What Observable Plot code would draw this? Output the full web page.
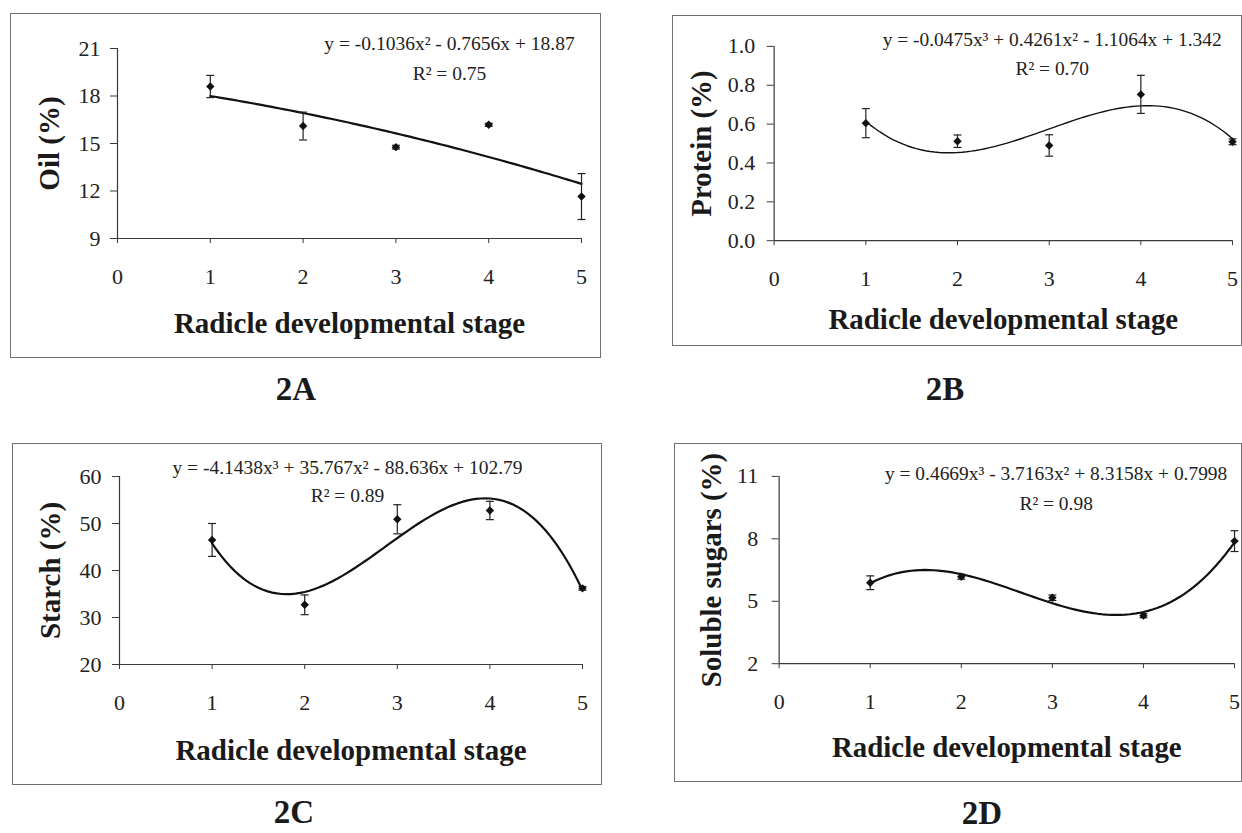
<!DOCTYPE html>
<html><head><meta charset="utf-8">
<script src="https://cdn.jsdelivr.net/npm/d3@7"></script>
<script src="https://cdn.jsdelivr.net/npm/@observablehq/plot@0.6"></script>
<style>
html,body{margin:0;padding:0;background:#fff;overflow:hidden;}
#page{position:relative;width:1242px;height:833px;overflow:hidden;font-family:"Liberation Serif","Times New Roman",serif;}
.panel{position:absolute;}
.panel svg{display:block;outline:1.6px solid #707070;outline-offset:-1px;}
.tag{position:absolute;font-weight:bold;font-size:33px;transform:translate(-50%,-50%);line-height:1;color:#1a1a1a;white-space:nowrap;}
</style></head><body><div id="page"></div>
<script>
// ---- data ----
const stages = [1, 2, 3, 4, 5];
const xTicks = [0, 1, 2, 3, 4, 5];
const xTitle = "Radicle developmental stage";

// 2A Oil
const oilMean = [18.6, 16.1, 14.77, 16.18, 11.65];
const oilErr  = [0.7, 0.88, 0.12, 0.1, 1.45];
const oilFit  = [-0.1036, -0.7656, 18.87];            // trendline coefficients (x², x, 1)
const oilTicks = [9, 12, 15, 18, 21];
const oilEq = "y = -0.1036x² - 0.7656x + 18.87";
const oilR2 = "R² = 0.75";

// 2B Protein
const protMean = [0.605, 0.512, 0.49, 0.753, 0.509];
const protErr  = [0.075, 0.032, 0.055, 0.098, 0.015];
const protFit  = [-0.0475, 0.4261, -1.1064, 1.342];  // (x³, x², x, 1)
const protTicks = [0, 0.2, 0.4, 0.6, 0.8, 1.0];
const protEq = "y = -0.0475x³ + 0.4261x² - 1.1064x + 1.342";
const protR2 = "R² = 0.70";

// 2C Starch
const starMean = [46.5, 32.7, 50.9, 52.77, 36.2];
const starErr  = [3.5, 2.1, 3.1, 1.95, 0.4];
const starFit  = [-4.1438, 35.767, -88.636, 102.79];
const starTicks = [20, 30, 40, 50, 60];
const starEq = "y = -4.1438x³ + 35.767x² - 88.636x + 102.79";
const starR2 = "R² = 0.89";

// 2D Soluble sugars
const sugMean = [5.89, 6.18, 5.17, 4.31, 7.89];
const sugErr  = [0.33, 0.12, 0.13, 0.1, 0.5];
const sugFit  = [0.4669, -3.7163, 8.3158, 0.7998];
const sugTicks = [2, 5, 8, 11];
const sugEq = "y = 0.4669x³ - 3.7163x² + 8.3158x + 0.7998";
const sugR2 = "R² = 0.98";

// ---- helpers ----
const fitCurve = coef => d3.range(1, 5.0001, 0.05).map(x => ({x, y: coef.reduce((a, c) => a * x + c, 0)}));
const rows = (mean, err) => stages.map((x, i) => ({x, y: mean[i], e: err[i]}));
const cap = {draw(ctx, size) { const h = Math.sqrt(size / Math.PI); ctx.moveTo(-h, 0); ctx.lineTo(h, 0); }};
const FONT = "'Liberation Serif','Times New Roman',serif";
const AX = "#3a3a3a";

function panel(p) {
  const pts = rows(p.mean, p.err);
  const ymin = p.ticks[0];
  const plot = Plot.plot({
    width: p.width, height: p.height,
    marginLeft: p.ml, marginRight: p.mr, marginTop: p.mt, marginBottom: p.mb,
    x: {domain: [0, 5]},
    y: {domain: [ymin, p.ticks[p.ticks.length - 1]]},
    style: {fontFamily: FONT, background: "#fff", color: "#222", overflow: "visible"},
    marks: [
      Plot.ruleX([0], {stroke: AX, strokeWidth: 1.2}),
      Plot.ruleY([ymin], {stroke: AX, strokeWidth: 1.2}),
      Plot.axisY({ticks: p.ticks, tickFormat: p.fmt, tickSize: 7, tickPadding: p.tp, fontSize: 22, label: null, stroke: AX}),
      Plot.axisX({ticks: xTicks, tickFormat: d3.format("d"), tickSize: 5, tickPadding: 25, fontSize: 22, label: null, stroke: AX}),
      Plot.line(fitCurve(p.fit), {x: "x", y: "y", stroke: "#111", strokeWidth: p.lw}),
      Plot.ruleX(pts, {x: "x", y1: d => d.y - d.e, y2: d => d.y + d.e, stroke: "#222", strokeWidth: 1.2}),
      Plot.dot(pts, {x: "x", y: d => d.y - d.e, symbol: cap, r: 4, fill: "none", stroke: "#222", strokeWidth: 1.2}),
      Plot.dot(pts, {x: "x", y: d => d.y + d.e, symbol: cap, r: 4, fill: "none", stroke: "#222", strokeWidth: 1.2}),
      Plot.dot(pts, {x: "x", y: "y", symbol: "diamond2", r: 3.8, fill: "#111", stroke: "none"}),
      Plot.text([p.eq], {text: d => d, frameAnchor: "top-right", textAnchor: "middle", lineAnchor: "middle", dx: p.edx, dy: p.edy, fontSize: 19.5, fill: "#222"}),
      Plot.text([p.r2], {text: d => d, frameAnchor: "top-right", textAnchor: "middle", lineAnchor: "middle", dx: p.edx, dy: p.rdy, fontSize: 19.5, fill: "#222"}),
      Plot.text([p.ytitle], {text: d => d, frameAnchor: "left", rotate: -90, textAnchor: "middle", lineAnchor: "middle", dx: p.ydx, fontSize: 29, fontWeight: "bold", fill: "#1a1a1a"}),
      Plot.text([xTitle], {text: d => d, frameAnchor: "bottom", textAnchor: "middle", lineAnchor: "middle", dy: p.xdy, fontSize: 29, fontWeight: "bold", fill: "#1a1a1a"})
    ]
  });
  const div = document.createElement("div");
  div.className = "panel";
  div.style.left = p.left + "px";
  div.style.top = p.top + "px";
  div.appendChild(plot);
  document.getElementById("page").appendChild(div);
  const tag = document.createElement("div");
  tag.className = "tag";
  tag.textContent = p.tag;
  tag.style.left = p.tx + "px";
  tag.style.top = p.ty + "px";
  document.getElementById("page").appendChild(tag);
}

panel({tag: "2A", tx: 296, ty: 389, left: 10, top: 13, width: 591, height: 345, ml: 107, mr: 20, mt: 35, mb: 120,
  mean: oilMean, err: oilErr, fit: oilFit, ticks: oilTicks, fmt: d3.format("d"), tp: 10,
  eq: oilEq, r2: oilR2, edx: -132, edy: -5, rdy: 25, ytitle: "Oil (%)", ydx: -68, xdy: 85, lw: 2.2});

panel({tag: "2B", tx: 945, ty: 389, left: 672, top: 15, width: 572, height: 332, ml: 102, mr: 10, mt: 31, mb: 106,
  mean: protMean, err: protErr, fit: protFit, ticks: protTicks, fmt: d3.format(".1f"), tp: 12,
  eq: protEq, r2: protR2, edx: -181, edy: -7, rdy: 22, ytitle: "Protein (%)", ydx: -73, xdy: 79, lw: 1.4});

panel({tag: "2C", tx: 294, ty: 812, left: 12, top: 443, width: 590, height: 342, ml: 107, mr: 20, mt: 33, mb: 121,
  mean: starMean, err: starErr, fit: starFit, ticks: starTicks, fmt: d3.format("d"), tp: 11,
  eq: starEq, r2: starR2, edx: -235, edy: -9, rdy: 19, ytitle: "Starch (%)", ydx: -69, xdy: 86, lw: 2.2});

panel({tag: "2D", tx: 982, ty: 813, left: 674, top: 443, width: 570, height: 340, ml: 105, mr: 8, mt: 33, mb: 119,
  mean: sugMean, err: sugErr, fit: sugFit, ticks: sugTicks, fmt: d3.format("d"), tp: 14,
  eq: sugEq, r2: sugR2, edx: -179, edy: -3, rdy: 27, ytitle: "Soluble sugars (%)", ydx: -68, xdy: 84, lw: 2.2});
</script></body></html>
